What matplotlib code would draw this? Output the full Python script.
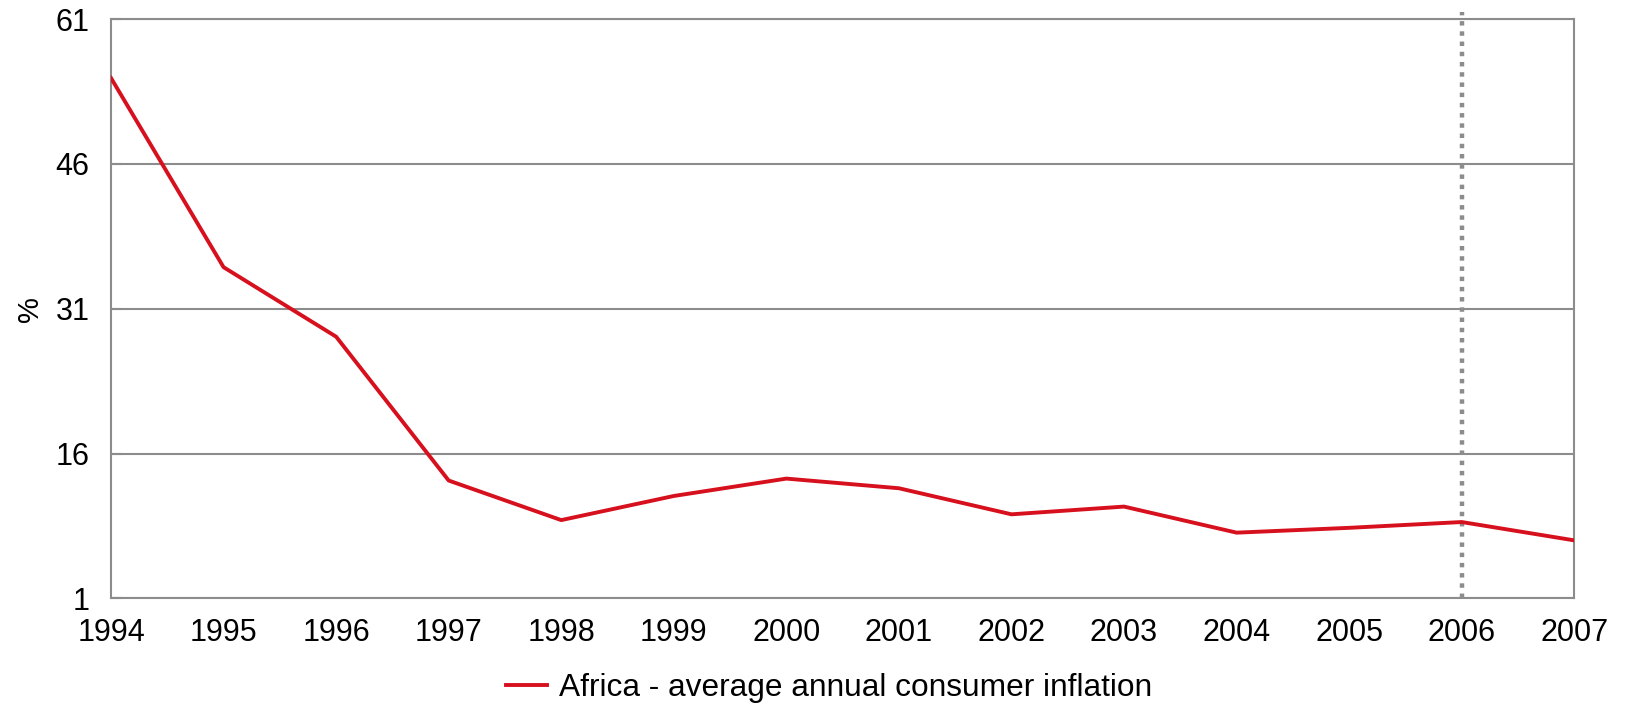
import matplotlib
matplotlib.use("Agg")
import matplotlib.pyplot as plt

plt.rcParams['font.family'] = ['Liberation Sans', 'DejaVu Sans']

years = [1994, 1995, 1996, 1997, 1998, 1999, 2000, 2001, 2002, 2003, 2004, 2005, 2006, 2007]
inflation = [54.9, 35.3, 28.1, 13.2, 9.1, 11.6, 13.4, 12.4, 9.7, 10.5, 7.8, 8.3, 8.9, 7.0]
y_ticks = [1, 16, 31, 46, 61]
marker_year = 2006
series_label = "Africa - average annual consumer inflation"

GRID = "#8c8c8c"
RED = "#d7101e"

fig = plt.figure(figsize=(16.26, 7.06), dpi=100)
ax = fig.add_axes([111 / 1626, 1 - 598.3 / 706, (1574.3 - 111) / 1626, (598.3 - 19.1) / 706])

ax.plot(years, inflation, color=RED, lw=2.8, label=series_label, zorder=3)
ax.axvline(marker_year, ymin=0, ymax=1.012, color=GRID, lw=3.2,
           linestyle=(0, (1, 1.3)), clip_on=False, zorder=2)

ax.set_xlim(years[0], years[-1])
ax.set_ylim(y_ticks[0], y_ticks[-1])
ax.set_xticks(years)
ax.set_yticks(y_ticks)
ax.yaxis.grid(True, color=GRID, lw=1.5)
ax.set_axisbelow(True)

for s in ax.spines.values():
    s.set_color(GRID)
    s.set_linewidth(1.5)

ax.tick_params(axis='y', direction='in', length=8, width=1.5, color=GRID,
               labelsize=22, pad=15.5)
ax.tick_params(axis='x', length=0, labelsize=22, pad=14)
ax.set_ylabel("%", fontsize=21, labelpad=8)

fig.legend(loc='center', bbox_to_anchor=(829 / 1626, 1 - 688 / 706), frameon=False,
           fontsize=22.8, handlelength=1.3, handletextpad=0.4)

fig.savefig("out.png", dpi=100, facecolor="white")
